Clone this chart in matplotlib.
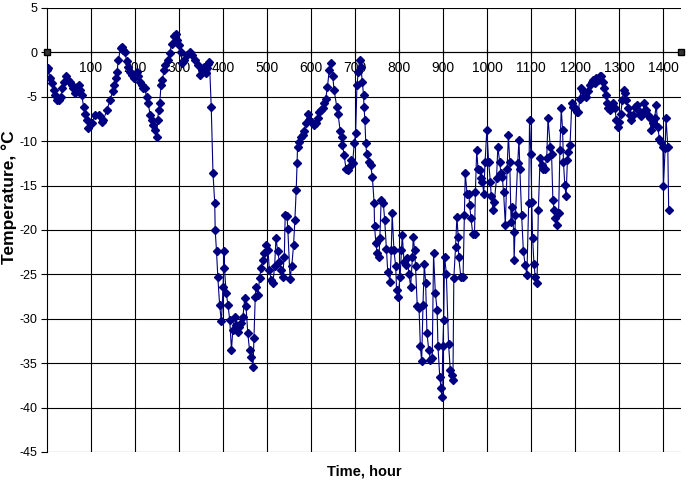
import matplotlib
matplotlib.use("Agg")
import matplotlib.pyplot as plt

plt.rcParams['font.family'] = ['Liberation Sans', 'DejaVu Sans']

hours = [0, 2, 7, 11, 15, 19, 23, 28, 32, 35, 39, 43, 47, 53, 57, 60, 64, 68, 72, 75, 79, 83, 87, 90, 94,
         102, 109, 117, 124, 128, 136, 143, 149, 153, 156, 159, 162, 167, 170, 173, 177, 181, 185, 188, 194, 198,
         204, 207, 211, 215, 219, 222, 226, 230, 234, 238, 241, 245, 249, 251, 254, 256, 259, 262, 266, 269, 274,
         279, 283, 289, 292, 296, 299, 304, 307, 311, 317, 324, 330, 336, 342, 347, 351, 357, 360, 363, 366, 369,
         373, 377, 381, 382, 385, 388, 392, 396, 400, 402, 403, 407, 411, 415, 419, 422, 426, 430, 434, 437, 441,
         445, 449, 452, 456, 460, 464, 468, 470, 473, 475, 479, 483, 486, 490, 494, 498, 502, 505, 509, 513, 517,
         520, 524, 528, 532, 535, 539, 541, 545, 547, 552, 556, 560, 563, 566, 568, 569, 573, 577, 581, 584, 588,
         592, 596, 603, 607, 611, 615, 618, 622, 626, 630, 633, 637, 641, 645, 649, 652, 658, 661, 666, 669, 671,
         675, 679, 683, 686, 690, 694, 698, 701, 704, 707, 710, 713, 716, 719, 720, 722, 724, 726, 731, 735, 739,
         743, 744, 747, 750, 754, 756, 759, 764, 767, 771, 774, 779, 782, 784, 788, 792, 794, 797, 802, 805, 807,
         811, 815, 818, 822, 826, 830, 832, 835, 837, 841, 845, 848, 851, 854, 857, 860, 863, 867, 871, 875, 878,
         882, 886, 888, 892, 895, 897, 899, 901, 903, 907, 912, 916, 920, 922, 924, 928, 931, 934, 935, 940, 945,
         948, 950, 954, 958, 960, 963, 967, 971, 973, 976, 979, 983, 986, 989, 992, 995, 999, 1003, 1007, 1009,
         1013, 1016, 1021, 1024, 1028, 1031, 1034, 1037, 1041, 1045, 1048, 1051, 1054, 1056, 1060, 1061, 1064,
         1069, 1072, 1074, 1078, 1082, 1086, 1090, 1094, 1096, 1099, 1101, 1103, 1106, 1109, 1113, 1116, 1120,
         1124, 1127, 1131, 1135, 1138, 1143, 1146, 1149, 1152, 1154, 1158, 1162, 1165, 1168, 1171, 1173, 1176,
         1179, 1182, 1184, 1188, 1192, 1195, 1199, 1203, 1207, 1210, 1214, 1218, 1222, 1225, 1229, 1233, 1237,
         1240, 1244, 1248, 1252, 1256, 1259, 1263, 1265, 1269, 1272, 1275, 1278, 1282, 1286, 1290, 1293, 1297,
         1299, 1303, 1307, 1310, 1313, 1316, 1320, 1324, 1327, 1331, 1335, 1339, 1342, 1346, 1350, 1353, 1357,
         1361, 1365, 1369, 1372, 1376, 1380, 1384, 1387, 1391, 1395, 1399, 1400, 1404, 1406, 1410, 1412]

temps = [-2.0, -1.8, -2.9, -3.5, -4.2, -4.8, -5.4, -5.4, -5.0, -4.0, -3.3, -2.7, -3.1, -3.3, -3.7, -4.0, -4.6,
         -3.9, -3.7, -4.2, -4.8, -6.1, -6.9, -7.6, -8.5,
         -8.0, -7.0, -7.0, -7.8, -7.6, -6.5, -5.4, -4.4, -3.7, -2.9, -2.2, -0.9, 0.5, 0.6, 0.3, 0.0, -1.0, -1.6,
         -2.2, -2.5, -2.9,
         -2.2, -2.7, -3.3, -3.7, -4.0, -4.0, -5.0, -5.7, -7.0, -7.6, -8.2, -8.7, -9.5, -7.6, -6.5, -5.7, -3.7,
         -3.1, -2.0, -1.4, -0.9,
         -0.1, 1.0, 1.8, 2.1, 1.4, 0.8, 0.1, -1.2, -0.9, -0.3, 0.1, -0.3, -0.9, -1.4, -2.5, -2.0, -1.6, -2.3,
         -1.8, -1.3, -1.1,
         -6.1, -13.6, -17.0, -20.0, -22.4, -25.3, -28.4, -30.3, -26.4, -22.4, -24.3, -27.1, -28.4, -30.1, -33.5,
         -31.3, -29.8, -30.7, -31.5, -30.9, -30.5,
         -29.8, -27.7, -28.6, -31.6, -33.5, -34.3, -35.4, -32.2, -27.5, -26.4, -27.3, -25.4, -24.3, -23.4, -22.6,
         -21.7, -22.3, -24.5, -25.6, -26.0, -24.1,
         -20.9, -22.4, -23.6, -24.5, -25.3, -23.0, -18.3, -18.4, -19.9, -25.5, -24.0, -21.7, -18.9, -15.5, -12.5,
         -10.6, -10.1, -9.5, -9.3, -8.9, -8.0,
         -6.9, -7.6, -7.8, -8.2, -8.0, -7.4, -6.7, -6.5, -6.3, -5.7, -5.2, -3.9, -2.0, -1.2, -2.7, -4.2, -6.1,
         -6.9, -8.9, -9.5, -10.4,
         -11.6, -13.1, -13.2, -12.9, -12.1, -12.5, -10.2, -9.1, -3.7, -2.2, -0.9, -1.6, -3.3, -4.8, -6.1, -7.6,
         -10.2, -11.4, -12.3, -12.7, -14.0,
         -17.0, -19.6, -21.5, -22.6, -23.0, -20.9, -16.6, -17.0, -18.9, -22.1, -24.7, -25.8, -22.3, -18.1, -22.3,
         -24.1, -26.8, -27.5, -25.3, -22.3, -20.6,
         -23.6, -23.9, -23.2, -24.9, -26.4, -23.0, -20.8, -22.3, -24.1, -28.6, -28.8, -33.1, -34.8, -28.4, -23.8,
         -26.0, -31.6, -33.5, -34.6, -34.4, -22.6,
         -27.1, -29.0, -33.1, -36.5, -37.8, -38.8, -33.1, -30.1, -23.0, -24.9, -32.8, -35.8, -36.3, -36.9, -25.4,
         -21.9, -18.5, -20.8, -23.0, -25.3, -25.3,
         -18.3, -13.6, -15.9, -15.9, -17.2, -18.7, -20.4, -20.4, -15.7, -11.0, -13.1, -13.2, -14.2, -14.6, -15.9,
         -12.3, -8.7, -12.3, -14.6, -16.2,
         -17.7, -16.8, -14.2, -10.6, -12.3, -13.6, -14.0, -15.7, -19.4, -13.1, -9.3, -12.3, -19.1, -17.4, -20.2,
         -23.4, -18.3,
         -12.5, -9.9, -13.1, -18.3, -22.4, -23.9, -25.1, -17.0, -7.6, -11.4, -16.8, -20.9, -23.8, -25.3, -26.0,
         -17.7, -11.9,
         -12.7, -13.1, -13.1, -11.9, -7.4, -10.6, -11.4, -16.6, -17.7, -18.7, -19.4, -18.1, -11.0, -6.3, -8.7,
         -12.3, -14.9,
         -16.2, -12.1, -11.2, -10.4, -5.7, -6.1, -6.3, -6.7, -6.7, -5.2, -4.0, -4.4, -4.8, -5.0, -4.4, -3.7, -3.3,
         -3.1, -3.5, -2.9, -3.1, -2.7, -2.7, -3.3, -4.0, -4.8, -5.7, -6.3, -6.5, -6.1, -5.7, -6.3, -7.6, -8.4,
         -7.8, -6.9, -5.4, -4.2, -4.6, -5.4, -6.3, -7.0, -7.6, -7.0, -6.1, -5.9, -6.5, -6.9, -7.2, -6.7, -5.7,
         -6.5, -7.0, -7.4, -8.7, -8.0, -7.4, -5.9, -8.4, -9.7, -10.1, -10.6, -15.1, -10.8, -7.4, -10.6, -17.7]

x_ticks = list(range(100, 1500, 100))
y_ticks = list(range(-45, 10, 5))
x_max = 1440

fig = plt.figure(figsize=(7.0, 4.84), dpi=100)
ax = fig.add_axes([47/700, 1 - 452/484, (681 - 47)/700, (452 - 8)/484])

ax.plot(hours, temps, color='#000080', linewidth=0.8, marker='D', markersize=3.8,
        markerfacecolor='#000080', markeredgecolor='#000080', zorder=3)

ax.set_xlim(0, x_max)
ax.set_ylim(-45, 5)
ax.set_xticks(x_ticks)
ax.set_yticks(y_ticks)
ax.set_xticklabels([str(t) for t in x_ticks], fontsize=8.3, color='#222222')
ax.set_yticklabels([str(t) for t in y_ticks], fontsize=9, color='#222222')

ax.grid(True, color='black', linewidth=0.8, zorder=0)
ax.set_axisbelow(True)

ax.spines['bottom'].set_position(('data', 0))
ax.spines['bottom'].set_color('black')
ax.spines['bottom'].set_linewidth(0.8)
ax.spines['left'].set_color('black')
ax.spines['left'].set_linewidth(0.8)
ax.spines['top'].set_visible(False)
ax.spines['right'].set_visible(False)
ax.tick_params(axis='x', direction='inout', length=4, pad=4, colors='black')
ax.tick_params(axis='y', direction='out', length=4, pad=3, colors='black')

ax.plot([0, x_max], [0, 0], linestyle='none', marker='s', markersize=4,
        color='black', markerfacecolor='#333333', clip_on=False, zorder=4)

fig.text(9/700, 1 - 197/484, 'Temperature, °C', ha='center', va='center', rotation=90,
         fontsize=12.5, fontweight='bold')
fig.text((47 + 681) / 2 / 700, 1 - 471/484, 'Time, hour', ha='center', va='center',
         fontsize=10.5, fontweight='bold')

fig.savefig('out.png', dpi=100)
